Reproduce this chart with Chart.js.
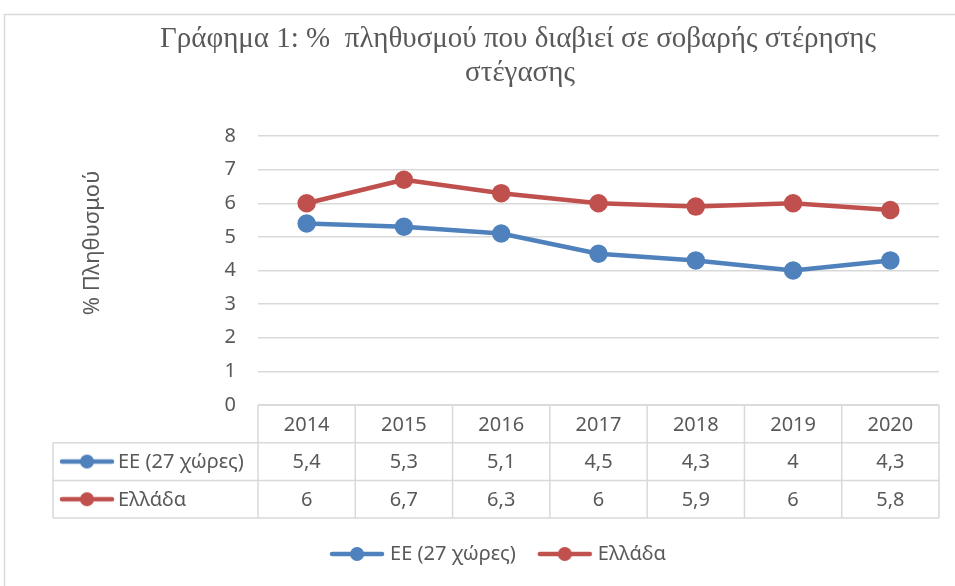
<!DOCTYPE html>
<html><head><meta charset="utf-8">
<script src="https://cdn.jsdelivr.net/npm/chart.js@4"></script>
<style>html,body{margin:0;padding:0;background:#fff;} canvas{display:block;}</style>
</head><body>
<canvas id="c" width="955" height="586"></canvas>
<script>
const categories = ['2014','2015','2016','2017','2018','2019','2020'];
const seriesNames = ['ΕΕ (27 χώρες)', 'Ελλάδα'];
const euValues = [5.4, 5.3, 5.1, 4.5, 4.3, 4, 4.3];
const greeceValues = [6, 6.7, 6.3, 6, 5.9, 6, 5.8];
const yTickMin = 0, yTickMax = 8, yTickStep = 1;
const titleLines = ['Γράφημα 1: %  πληθυσμού που διαβιεί σε σοβαρής στέρησης', 'στέγασης'];
const yAxisTitle = '% Πληθυσμού';

const BLUE = '#4F81BD', RED = '#C0504D', TEXT = '#595959', GRID = '#d9d9d9';
const FONT = "'Noto Sans', sans-serif";

function makeKey(color) {
  const c = document.createElement('canvas');
  c.width = 56; c.height = 16;
  const g = c.getContext('2d');
  g.strokeStyle = color; g.lineWidth = 4.5; g.lineCap = 'round';
  g.beginPath(); g.moveTo(3, 8); g.lineTo(53, 8); g.stroke();
  g.fillStyle = color; g.beginPath(); g.arc(28, 8, 7, 0, Math.PI * 2); g.fill();
  return c;
}
const keys = [makeKey(BLUE), makeKey(RED)];
const colors = [BLUE, RED];
const seriesValues = [euValues, greeceValues];
const fmt = v => String(v).replace('.', ',');

const decor = {
  id: 'decor',
  beforeDraw(chart) {
    const ctx = chart.ctx;
    ctx.save();
    ctx.fillStyle = '#fff';
    ctx.fillRect(0, 0, chart.width, chart.height);
    ctx.strokeStyle = GRID; ctx.lineWidth = 1.5;
    ctx.strokeRect(4.5, 14.5, chart.width + 10, chart.height + 10);
    ctx.restore();
  },
  afterDraw(chart) {
    const ctx = chart.ctx;
    const area = chart.chartArea;
    const xs = chart.scales.x;
    ctx.save();
    // title
    ctx.fillStyle = TEXT;
    ctx.font = "29px 'Liberation Serif', serif";
    ctx.textAlign = 'center'; ctx.textBaseline = 'alphabetic';
    ctx.fillText(titleLines[0], 518, 47);
    ctx.fillText(titleLines[1], 520, 81);
    // y title
    ctx.textBaseline = 'middle';
    ctx.save();
    ctx.translate(93, 243);
    ctx.rotate(-Math.PI / 2);
    ctx.font = '22px ' + FONT;
    ctx.fillText(yAxisTitle, 0, 0);
    ctx.restore();
    // data table
    const n = categories.length;
    const cw = (area.right - area.left) / n;
    const rowH = 37.7;
    const top = area.bottom;
    const labelLeft = 53;
    ctx.strokeStyle = GRID; ctx.lineWidth = 1.5;
    const line = (x1, y1, x2, y2) => { ctx.beginPath(); ctx.moveTo(x1, y1); ctx.lineTo(x2, y2); ctx.stroke(); };
    line(area.left, top, area.right, top);
    for (let r = 1; r <= 3; r++) line(labelLeft, top + r * rowH, area.right, top + r * rowH);
    line(labelLeft, top + rowH, labelLeft, top + 3 * rowH);
    for (let i = 0; i <= n; i++) { const x = area.left + i * cw; line(x, top, x, top + 3 * rowH); }
    ctx.font = '20px ' + FONT;
    ctx.fillStyle = TEXT;
    ctx.textAlign = 'center';
    categories.forEach((c, i) => ctx.fillText(c, xs.getPixelForValue(i), top + rowH / 2 + 1));
    seriesValues.forEach((vals, s) => {
      const cy = top + rowH * (s + 1.5);
      vals.forEach((v, i) => ctx.fillText(fmt(v), xs.getPixelForValue(i), cy + 1));
      ctx.drawImage(keys[s], 59, cy - 8);
      ctx.textAlign = 'left';
      ctx.fillText(seriesNames[s], 118, cy + 1);
      ctx.textAlign = 'center';
    });
    ctx.restore();
  }
};

new Chart(document.getElementById('c'), {
  type: 'line',
  data: {
    labels: categories,
    datasets: seriesValues.map((vals, s) => ({
      label: seriesNames[s],
      data: vals,
      borderColor: colors[s],
      backgroundColor: colors[s],
      pointBackgroundColor: colors[s],
      pointBorderColor: colors[s],
      borderWidth: 4.5,
      pointRadius: 7,
      pointHoverRadius: 7,
      borderCapStyle: 'round',
      borderJoinStyle: 'round',
      tension: 0,
      fill: false
    }))
  },
  options: {
    responsive: false,
    animation: false,
    devicePixelRatio: 1,
    layout: { padding: { top: 136, right: 16, left: 61, bottom: 12 } },
    plugins: {
      title: { display: false },
      tooltip: { enabled: false },
      legend: {
        position: 'bottom',
        labels: {
          color: TEXT,
          font: { family: FONT, size: 20 },
          padding: 26,
          usePointStyle: true,
          pointStyleWidth: 46,
          boxHeight: 16,
          generateLabels(chart) {
            const items = Chart.defaults.plugins.legend.labels.generateLabels(chart);
            return items.map((it, i) => Object.assign(it, { pointStyle: keys[i] }));
          }
        }
      }
    },
    scales: {
      x: {
        type: 'category',
        offset: true,
        ticks: { display: false },
        grid: { display: false },
        border: { display: false },
        afterFit(scale) { scale.height = 113; }
      },
      y: {
        min: yTickMin, max: yTickMax,
        ticks: { stepSize: yTickStep, color: TEXT, font: { family: FONT, size: 20 }, padding: 22 },
        grid: { color: GRID, lineWidth: 1.5, drawTicks: false },
        border: { display: false },
        afterFit(scale) { scale.width = 197; }
      }
    }
  },
  plugins: [decor]
});
</script>
</body></html>
